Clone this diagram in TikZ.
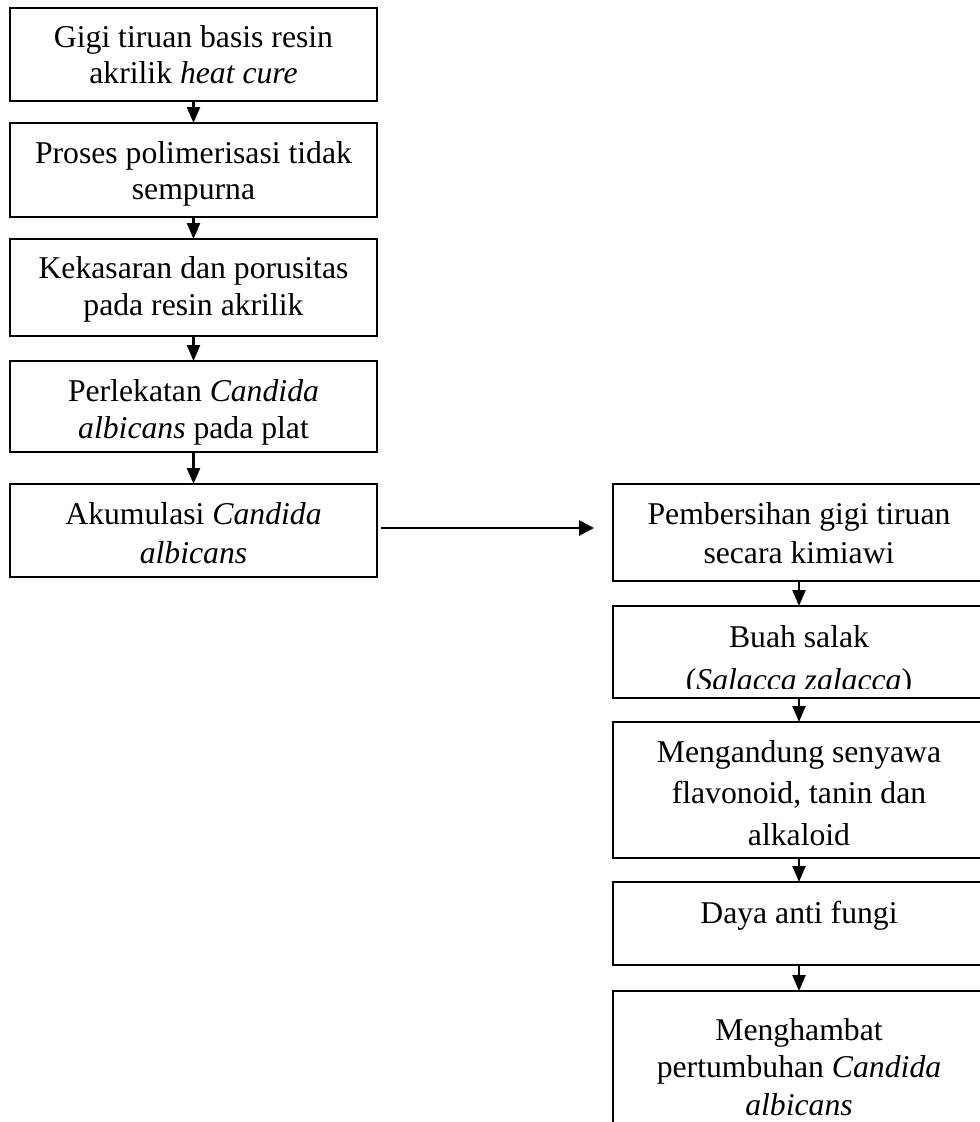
\documentclass[tikz,border=0pt]{standalone}
\usepackage{fontspec}
\setmainfont{Liberation Serif}
\usetikzlibrary{arrows.meta}
\begin{document}
\begin{tikzpicture}[x=1pt,y=-1pt,
  box/.style={draw,line width=2.4pt,rectangle,inner sep=0pt,outer sep=0pt},
  lbox/.style={box,minimum width=367pt},
  rbox/.style={box,minimum width=372pt},
  txt/.style={inner sep=0pt,anchor=base,align=center,font=\fontsize{31.7}{#1}\selectfont},
  txt/.default=37,
  arr/.style={line width=2.4pt,-{Triangle[width=13pt,length=16pt]}},
  harr/.style={line width=2.8pt,-{Triangle[width=15pt,length=15pt]}}]
\useasboundingbox (0,0) rectangle (980,1122);
\clip (0,0) rectangle (980,1122);
% left column boxes
\node[lbox,minimum height=93pt] (L1) at (193.5,54.5) {};
\node[lbox,minimum height=94pt] (L2) at (193.5,170) {};
\node[lbox,minimum height=97pt] (L3) at (193.5,287.5) {};
\node[lbox,minimum height=91pt] (L4) at (193.5,406.5) {};
\node[lbox,minimum height=93pt] (L5) at (193.5,530.5) {};
% right column boxes
\node[rbox,minimum height=97pt] (R1) at (799,532.5) {};
\node[rbox,minimum height=92pt] (R2) at (799,652) {};
\node[rbox,minimum height=136pt] (R3) at (799,790) {};
\node[rbox,minimum height=83pt] (R4) at (799,923.5) {};
\node[rbox,minimum height=149pt] (R5) at (799,1065.5) {};
% texts (anchor = baseline of the last line)
\node[txt=36] (t1) at (193.5,83) {Gigi tiruan basis resin\\akrilik \textit{heat cure}};
\node[txt=36] (t2) at (193.5,199) {Proses polimerisasi tidak\\sempurna};
\node[txt=37] (t3) at (193.5,315) {Kekasaran dan porusitas\\pada resin akrilik};
\node[txt=37] (t4) at (193.5,438) {Perlekatan \textit{Candida}\\\textit{albicans} pada plat};
\node[txt=39] (t5) at (193.5,563) {Akumulasi \textit{Candida}\\\textit{albicans}};
\node[txt=39] (u1) at (799,563) {Pembersihan gigi tiruan\\secara kimiawi};
\begin{scope}
\clip (613,606) rectangle (985,688.5);
\node[txt=43] (u2) at (799,690) {Buah salak\\(\textit{Salacca zalacca})};
\end{scope}
\node[txt=41.5] (u3) at (799,845) {Mengandung senyawa\\flavonoid, tanin dan\\alkaloid};
\node[txt] (u4) at (799,923) {Daya anti fungi};
\node[txt=37.5] (u5) at (799,1115) {Menghambat\\pertumbuhan \textit{Candida}\\\textit{albicans}};
% connectors
\draw[arr] (L1.south) -- (L2.north);
\draw[arr] (L2.south) -- (L3.north);
\draw[arr] (L3.south) -- (L4.north);
\draw[arr] (L4.south) -- (L5.north);
\draw[harr] ([xshift=4pt,yshift=2.5pt]L5.east) -- ([xshift=-19pt,yshift=2.5pt]L5.east -| R1.west);
\draw[arr] (R1.south) -- (R2.north);
\draw[arr] (R2.south) -- (R3.north);
\draw[arr] (R3.south) -- (R4.north);
\draw[arr] (R4.south) -- (R5.north);
\end{tikzpicture}
\end{document}
